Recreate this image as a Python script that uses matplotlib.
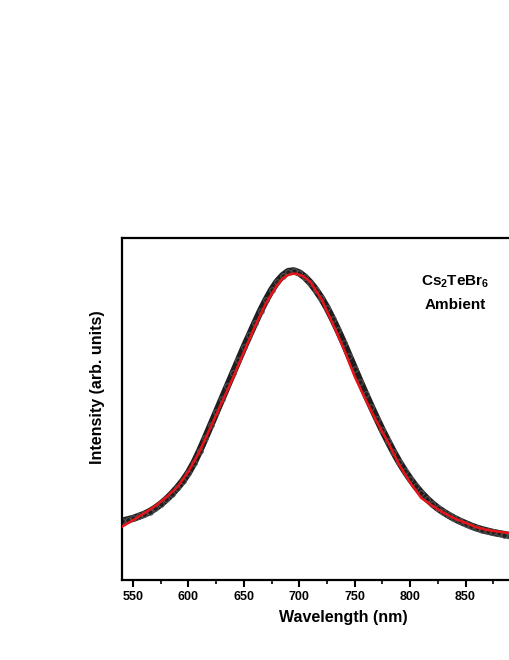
import matplotlib
matplotlib.use("Agg")
import matplotlib.pyplot as plt
import numpy as np

plt.rcParams['font.family'] = ['Liberation Sans', 'DejaVu Sans']
plt.rcParams['mathtext.fontset'] = 'custom'
plt.rcParams['mathtext.bf'] = 'Liberation Sans:bold'
plt.rcParams['mathtext.rm'] = 'Liberation Sans'

wl_data = np.arange(540, 915, 5)
pl_data = [0.172, 0.176, 0.180, 0.186, 0.192, 0.200, 0.210, 0.222, 0.236, 0.252,
           0.270, 0.290, 0.314, 0.343, 0.377, 0.414, 0.452, 0.490, 0.528, 0.566,
           0.604, 0.642, 0.680, 0.716, 0.752, 0.787, 0.819, 0.848, 0.872, 0.890,
           0.902, 0.904, 0.898, 0.886, 0.869, 0.848, 0.824, 0.796, 0.764, 0.730,
           0.694, 0.656, 0.618, 0.580, 0.543, 0.507, 0.472, 0.438, 0.406, 0.375,
           0.346, 0.320, 0.296, 0.274, 0.255, 0.238, 0.223, 0.210, 0.199, 0.189,
           0.180, 0.172, 0.165, 0.158, 0.152, 0.147, 0.143, 0.139, 0.136, 0.133,
           0.130, 0.128, 0.126, 0.124, 0.122]

# fitted curve (red)
wl_fit = [540, 550, 560, 570, 580, 590, 600, 610, 620, 630, 640, 650, 660, 670,
          680, 685, 690, 695, 700, 705, 710, 720, 730, 740, 750, 760, 770, 780,
          790, 800, 810, 820, 830, 840, 850, 860, 870, 880, 890, 900, 910]
pl_fit = [0.156, 0.175, 0.195, 0.216, 0.242, 0.272, 0.318, 0.376, 0.447, 0.519,
          0.590, 0.667, 0.742, 0.810, 0.862, 0.882, 0.892, 0.896, 0.893, 0.885,
          0.871, 0.821, 0.751, 0.677, 0.595, 0.526, 0.462, 0.403, 0.338, 0.285,
          0.240, 0.217, 0.197, 0.180, 0.167, 0.154, 0.146, 0.141, 0.137, 0.134,
          0.131]

fig = plt.figure(figsize=(5.1, 6.6), dpi=100)
ax = fig.add_axes([122/510, 80/660, 410/510, 342/660])

ax.plot(wl_data, pl_data, color='0.12', lw=5.2, zorder=1)
ax.plot(wl_data, pl_data, 'o', mfc='none', mec='0.35', ms=4, mew=0.7, zorder=2)
ax.plot(wl_fit, pl_fit, color='#e8141a', lw=1.8, zorder=3)

ax.set_xlim(540, 910)
ax.set_ylim(0, 1.0)
ax.set_xticks(np.arange(550, 901, 50))
ax.set_xticks(np.arange(550, 901, 25), minor=True)
ax.set_yticks([])
ax.tick_params(axis='x', which='major', direction='out', length=5, width=1.5,
               labelsize=9, pad=3)
ax.tick_params(axis='x', which='minor', direction='out', length=3, width=1.2)
for lab in ax.get_xticklabels():
    lab.set_fontweight('bold')
for s in ax.spines.values():
    s.set_linewidth(1.6)

ax.set_xlabel("Wavelength (nm)", fontsize=11.5, fontweight='bold')
ax.set_ylabel("Intensity (arb. units)", fontsize=11.5, fontweight='bold')
ax.xaxis.set_label_coords(0.541, -0.088)
ax.yaxis.set_label_coords(-0.041, 0.564)

ax.text(0.812, 0.871, r"$\mathbf{Cs_2TeBr_6}$", transform=ax.transAxes,
        ha='center', va='center', fontsize=11)
ax.text(0.812, 0.804, "Ambient", transform=ax.transAxes,
        ha='center', va='center', fontsize=11, fontweight='bold')

fig.savefig("out.png", dpi=100)
